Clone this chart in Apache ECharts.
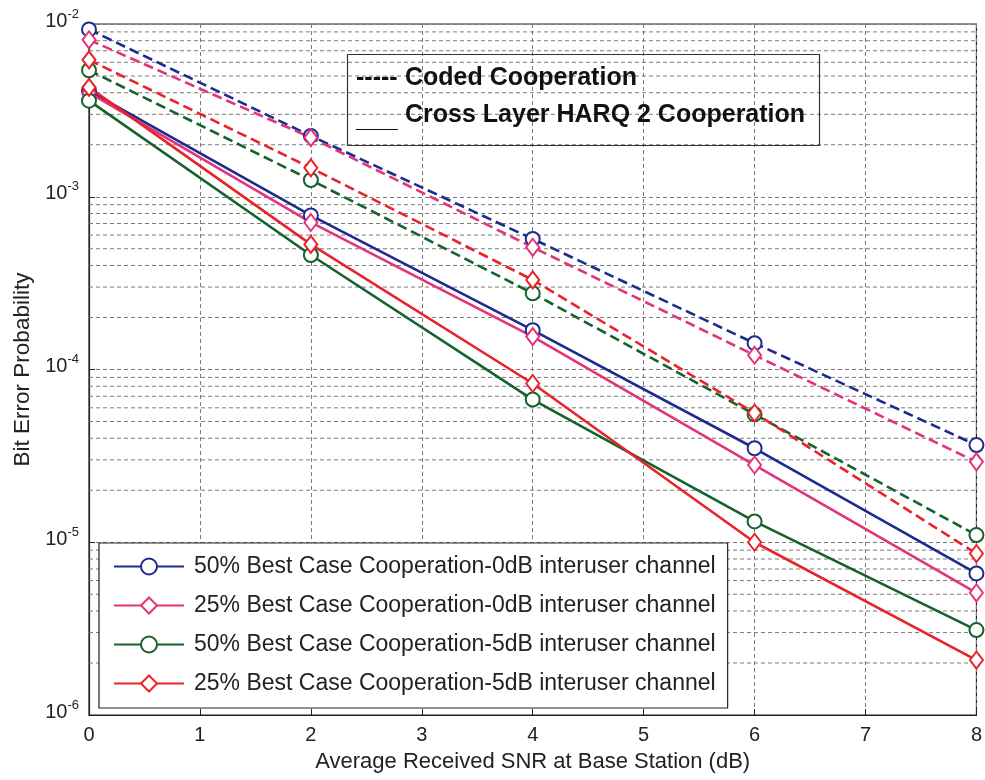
<!DOCTYPE html>
<html>
<head>
<meta charset="utf-8">
<script src="https://cdn.jsdelivr.net/npm/echarts@6/dist/echarts.min.js"></script>
<style>
html,body{margin:0;padding:0;background:#fff;}
#c{width:985px;height:780px;}
</style>
</head>
<body>
<div id="c"></div>
<script>
// ---- data ----
var snr = [0, 2, 4, 6, 8];
var coded50_0dB = [9.3e-3, 2.25e-3, 5.7e-4, 1.42e-4, 3.65e-5];
var coded25_0dB = [8.1e-3, 2.2e-3, 5.1e-4, 1.21e-4, 2.92e-5];
var coded50_5dB = [5.4e-3, 1.25e-3, 2.76e-4, 5.5e-5, 1.10e-5];
var coded25_5dB = [6.2e-3, 1.47e-3, 3.3e-4, 5.6e-5, 8.6e-6];
var harq50_0dB = [4.1e-3, 7.8e-4, 1.69e-4, 3.5e-5, 6.6e-6];
var harq25_0dB = [4.0e-3, 7.1e-4, 1.55e-4, 2.8e-5, 5.1e-6];
var harq50_5dB = [3.6e-3, 4.6e-4, 6.7e-5, 1.32e-5, 3.1e-6];
var harq25_5dB = [4.3e-3, 5.3e-4, 8.3e-5, 1.0e-5, 2.08e-6];
var xTicks = [0, 1, 2, 3, 4, 5, 6, 7, 8];
var yDecades = [1e-6, 1e-5, 1e-4, 1e-3, 1e-2];
var minorMultipliers = [2, 3, 4, 5, 6, 7, 8, 9];
var legendNames = [
  '50% Best Case Cooperation-0dB interuser channel',
  '25% Best Case Cooperation-0dB interuser channel',
  '50% Best Case Cooperation-5dB interuser channel',
  '25% Best Case Cooperation-5dB interuser channel'
];

var BLUE = '#1d2b8f', PINK = '#e2337b', GREEN = '#15622c', RED = '#e8232a';
var FONT = '"Liberation Sans", Arial, sans-serif';
var GRIDCOLOR = '#7a7a7a';

function pairs(ys) { return snr.map(function (x, i) { return [x, ys[i]]; }); }

var minorGrid = [];
for (var d = 0; d < yDecades.length - 1; d++) {
  minorMultipliers.forEach(function (m) { minorGrid.push([xTicks[0], yDecades[d] * m]); });
}

function mk(name, ys, color, symbol, dashed) {
  return {
    name: name, type: 'line', data: pairs(ys),
    symbol: symbol,
    symbolSize: symbol === 'emptyDiamond' ? [13, 17] : 14,
    showAllSymbol: true,
    lineStyle: { color: color, width: 2.6, type: dashed ? [10, 5] : 'solid' },
    itemStyle: { color: color, borderColor: color, borderWidth: 2.6 },
    z: 3, animation: false
  };
}

var series = [
  {
    name: 'minor-grid', type: 'custom', data: minorGrid, silent: true, animation: false, z: 1,
    renderItem: function (params, api) {
      var v = api.value(1);
      var p0 = api.coord([xTicks[0], v]);
      var p1 = api.coord([xTicks[xTicks.length - 1], v]);
      return {
        type: 'line',
        shape: { x1: p0[0], y1: p0[1], x2: p1[0], y2: p1[1] },
        style: { stroke: GRIDCOLOR, lineWidth: 1, lineDash: [4, 3] }
      };
    }
  },
  mk('Coded 50% 0dB', coded50_0dB, BLUE, 'emptyCircle', true),
  mk('Coded 25% 0dB', coded25_0dB, PINK, 'emptyDiamond', true),
  mk('Coded 50% 5dB', coded50_5dB, GREEN, 'emptyCircle', true),
  mk('Coded 25% 5dB', coded25_5dB, RED, 'emptyDiamond', true),
  mk(legendNames[0], harq50_0dB, BLUE, 'emptyCircle', false),
  mk(legendNames[1], harq25_0dB, PINK, 'emptyDiamond', false),
  mk(legendNames[2], harq50_5dB, GREEN, 'emptyCircle', false),
  mk(legendNames[3], harq25_5dB, RED, 'emptyDiamond', false)
];

var chart = echarts.init(document.getElementById('c'), null, { renderer: 'canvas' });
chart.setOption({
  backgroundColor: '#fff',
  animation: false,
  textStyle: { fontFamily: FONT },
  grid: { left: 89, right: 6, top: 24, bottom: 65, show: true, borderColor: '#222', borderWidth: 1.2, backgroundColor: 'transparent' },
  xAxis: {
    type: 'value', min: 0, max: 8, interval: 1,
    name: 'Average Received SNR at Base Station (dB)',
    nameLocation: 'middle', nameGap: 36,
    nameTextStyle: { fontSize: 22, color: '#222', fontFamily: FONT },
    axisLine: { show: true, lineStyle: { color: '#222', width: 1.2 } },
    axisTick: { show: true, inside: true, length: 6, lineStyle: { color: '#222' } },
    axisLabel: { fontSize: 20, color: '#222', margin: 10, fontFamily: FONT },
    splitLine: { show: true, lineStyle: { color: GRIDCOLOR, width: 1, type: [4, 3] } }
  },
  yAxis: {
    type: 'log', logBase: 10, min: 1e-6, max: 1e-2,
    name: 'Bit Error Probability',
    nameLocation: 'middle', nameGap: 48,
    nameTextStyle: { fontSize: 22.5, color: '#222', fontFamily: FONT },
    axisLine: { show: true, lineStyle: { color: '#222', width: 1.2 } },
    axisTick: { show: true, inside: true, length: 6, lineStyle: { color: '#222' } },
    axisLabel: {
      color: '#222', margin: 10, fontFamily: FONT,
      formatter: function (v) { return '{b|10}{s|' + Math.round(Math.log10(v)) + '}'; },
      rich: {
        b: { fontSize: 20, color: '#222', fontFamily: FONT, padding: [0, 0, 6, 0] },
        s: { fontSize: 13, color: '#222', fontFamily: FONT, padding: [0, 0, 20, 0] }
      }
    },
    splitLine: { show: true, lineStyle: { color: GRIDCOLOR, width: 1, type: [4, 3] } }
  },
  legend: {
    data: legendNames,
    orient: 'vertical',
    left: 99, top: 543,
    padding: [12, 12, 13, 14],
    itemWidth: 70, itemHeight: 20, itemGap: 16,
    backgroundColor: '#fff', borderColor: '#222', borderWidth: 1.2,
    textStyle: { fontSize: 23, color: '#222', fontFamily: FONT, padding: [0, 0, 0, 5], lineHeight: 22 },
    selectedMode: false
  },
  graphic: [
    { type: 'rect', left: 345, top: 52, shape: { width: 472, height: 91 }, style: { fill: 'none', stroke: '#333', lineWidth: 1.2 }, z: 100 },
    { type: 'text', left: 356, top: 66, style: { text: '-----', font: 'bold 25px ' + FONT, fill: '#111' }, z: 100 },
    { type: 'text', left: 405, top: 66, style: { text: 'Coded Cooperation', font: 'bold 25px ' + FONT, fill: '#111' }, z: 100 },
    { type: 'text', left: 356, top: 108, style: { text: '___', font: 'bold 25px ' + FONT, fill: '#111' }, z: 100 },
    { type: 'text', left: 405, top: 103, style: { text: 'Cross Layer HARQ 2 Cooperation', font: 'bold 25px ' + FONT, fill: '#111' }, z: 100 }
  ],
  series: series
});
</script>
</body>
</html>
